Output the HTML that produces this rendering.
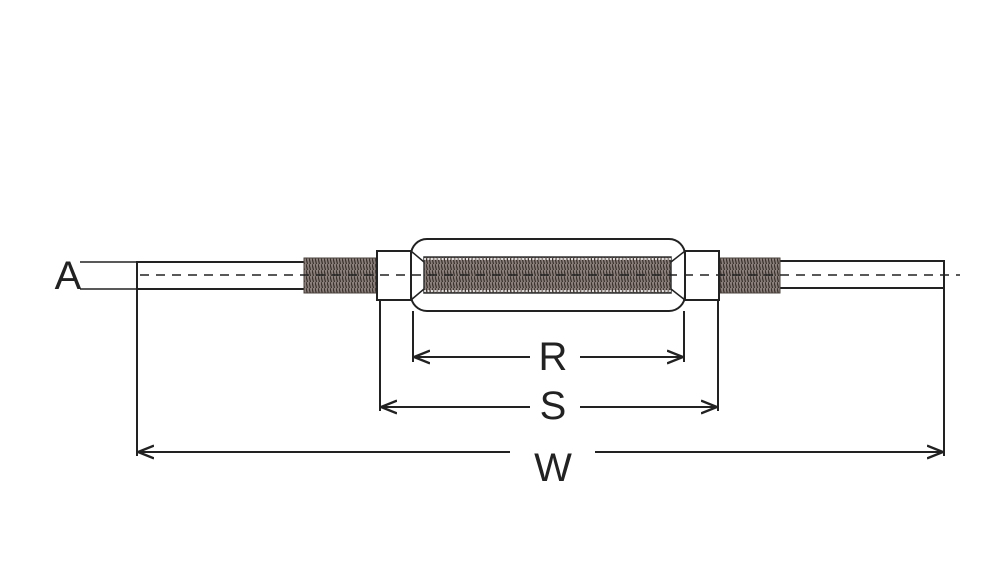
<!DOCTYPE html>
<html><head><style>body{margin:0;background:#fff}svg{display:block}</style></head><body>
<svg width="1000" height="567" viewBox="0 0 1000 567" xmlns="http://www.w3.org/2000/svg">
<defs>
<pattern id="th" width="3" height="6" patternUnits="userSpaceOnUse"><rect width="3" height="6" fill="#8a7f7a"/><line x1="0" y1="0" x2="1.5" y2="6" stroke="#3a302c" stroke-width="1.2"/></pattern>
<marker id="ar" viewBox="0 0 10 10" refX="10" refY="5" markerWidth="8" markerHeight="8" orient="auto-start-reverse"><path d="M0,1 L10,5 L0,9" fill="none" stroke="#222" stroke-width="1.5"/></marker>
</defs>
<g stroke="#222" stroke-width="2" fill="none">
<!-- rods -->
<rect x="137" y="262" width="168" height="27" fill="#fff"/>
<rect x="779" y="261" width="165" height="27" fill="#fff"/>
<!-- threads -->
<rect x="304" y="258" width="72" height="35" fill="url(#th)" stroke="#4a403c" stroke-width="1"/>
<rect x="720" y="258" width="60" height="35" fill="url(#th)" stroke="#4a403c" stroke-width="1"/>
<!-- body -->
<rect x="411" y="239" width="274" height="72" rx="16" fill="#fff"/>
<rect x="424" y="257" width="247" height="36" fill="url(#th)" stroke="#333" stroke-width="1.5"/>
<line x1="424" y1="259" x2="671" y2="259" stroke="#fff" stroke-width="1.5" stroke-dasharray="2 1.5"/>
<line x1="424" y1="291" x2="671" y2="291" stroke="#fff" stroke-width="1.5" stroke-dasharray="2 1.5"/>
<!-- nuts -->
<rect x="377" y="251" width="34" height="49" fill="#fff"/>
<rect x="685" y="251" width="34" height="49" fill="#fff"/>
<path d="M411,251 L424,262 M411,300 L424,289 M685,251 L671,262 M685,300 L671,289" stroke-width="1.5"/>
<!-- center dashed -->
<line x1="140" y1="275" x2="960" y2="275" stroke-width="1.5" stroke-dasharray="9 7"/>
<!-- A -->
<line x1="80" y1="262" x2="137" y2="262" stroke-width="1.5"/>
<line x1="80" y1="289" x2="137" y2="289" stroke-width="1.5"/>
<!-- extension lines -->
<line x1="137" y1="289" x2="137" y2="456"/>
<line x1="944" y1="288" x2="944" y2="456"/>
<line x1="380" y1="300" x2="380" y2="411"/>
<line x1="718" y1="300" x2="718" y2="411"/>
<line x1="413" y1="311" x2="413" y2="362"/>
<line x1="684" y1="311" x2="684" y2="362"/>
<!-- dims -->
<line x1="414" y1="357" x2="530" y2="357" marker-start="url(#ar)"/>
<line x1="580" y1="357" x2="683" y2="357" marker-end="url(#ar)"/>
<line x1="381" y1="407" x2="530" y2="407" marker-start="url(#ar)"/>
<line x1="580" y1="407" x2="717" y2="407" marker-end="url(#ar)"/>
<line x1="138" y1="452" x2="510" y2="452" marker-start="url(#ar)"/>
<line x1="595" y1="452" x2="943" y2="452" marker-end="url(#ar)"/>
</g>
<g font-family="Liberation Sans, sans-serif" font-size="40" fill="#222" text-anchor="middle">
<text x="68" y="289">A</text>
<text x="553" y="370">R</text>
<text x="553" y="419">S</text>
<text x="553" y="481">W</text>
</g>
</svg>
</body></html>
